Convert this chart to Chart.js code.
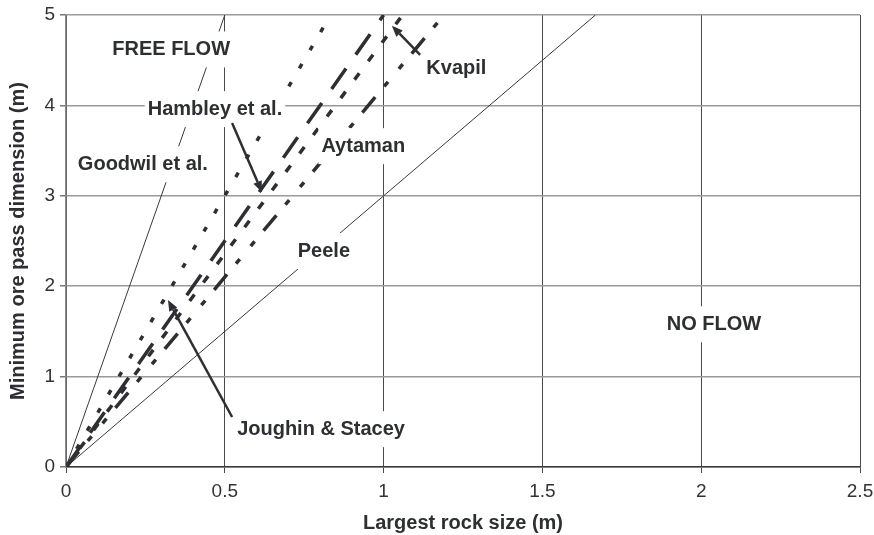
<!DOCTYPE html>
<html>
<head>
<meta charset="utf-8">
<script src="https://cdn.jsdelivr.net/npm/chart.js@4/dist/chart.umd.min.js"></script>
<style>
  html, body { margin: 0; padding: 0; background: #fff; }
  #wrap { width: 874px; height: 535px; }
</style>
</head>
<body>
<div id="wrap"><canvas id="chart"></canvas></div>
<script>
// ore pass criteria: every line starts at the origin and runs to (endX, endY)
const seriesNames = ['Goodwil et al.', 'Joughin & Stacey', 'Hambley et al.', 'Aytaman', 'Kvapil', 'Peele'];
const startX = [0, 0, 0, 0, 0, 0];
const startY = [0, 0, 0, 0, 0, 0];
const endX = [0.5, 0.833, 1.0, 1.06, 1.19, 1.667];
const endY = [5, 5, 5, 5, 5, 5];

const xTicks = [0, 0.5, 1, 1.5, 2, 2.5];
const yTicks = [0, 1, 2, 3, 4, 5];

// text labels placed on the chart (value coordinates)
const noteText = ['FREE FLOW', 'Hambley et al.', 'Goodwil et al.', 'Aytaman', 'Kvapil', 'Peele', 'Joughin & Stacey', 'NO FLOW'];
const noteX = [0.331, 0.469, 0.242, 0.936, 1.229, 0.812, 0.803, 2.04];
const noteY = [4.63, 3.97, 3.36, 3.56, 4.42, 2.40, 0.43, 1.59];

// pointer arrows: tail -> head (value coordinates)
const arrowFromX = [0.523, 0.523, 1.115];
const arrowFromY = [3.805, 0.553, 4.56];
const arrowToX = [0.617, 0.321, 1.026];
const arrowToY = [3.04, 1.847, 4.88];

const INK = '#2e2f33';
const FONT = '"Liberation Sans", Arial, Helvetica, sans-serif';

const lineStyle = {
  'Goodwil et al.': { width: 1, dash: [], color: '#3a3a3a' },
  'Joughin & Stacey': { width: 3.5, dash: [5, 16], color: INK },
  'Hambley et al.': { width: 3.5, dash: [25, 17], color: INK },
  'Aytaman': { width: 3.5, dash: [8, 15], color: INK },
  'Kvapil': { width: 3.5, dash: [20, 14, 6, 17, 6, 14], color: INK },
  'Peele': { width: 1, dash: [], color: '#3a3a3a' },
};

const datasets = seriesNames.map((name, i) => ({
  label: name,
  data: [{ x: startX[i], y: startY[i] }, { x: endX[i], y: endY[i] }],
  showLine: true,
  pointRadius: 0,
  borderColor: lineStyle[name].color,
  borderWidth: lineStyle[name].width,
  borderDash: lineStyle[name].dash,
  borderCapStyle: 'butt',
  fill: false,
}));

const notesPlugin = {
  id: 'notes',
  afterDatasetsDraw(chart) {
    const { ctx, scales: { x, y } } = chart;
    ctx.save();
    ctx.font = 'bold 20px ' + FONT;
    ctx.textAlign = 'center';
    ctx.textBaseline = 'middle';
    noteText.forEach((t, i) => {
      const px = x.getPixelForValue(noteX[i]);
      const py = y.getPixelForValue(noteY[i]);
      const w = ctx.measureText(t).width;
      ctx.fillStyle = '#fff';
      ctx.fillRect(px - w / 2 - 3, py - 17, w + 6, 36);
      ctx.fillStyle = INK;
      ctx.fillText(t, px, py + 1);
    });

    ctx.strokeStyle = INK;
    ctx.fillStyle = INK;
    ctx.lineWidth = 2.5;
    arrowFromX.forEach((_, i) => {
      const x0 = x.getPixelForValue(arrowFromX[i]);
      const y0 = y.getPixelForValue(arrowFromY[i]);
      const x1 = x.getPixelForValue(arrowToX[i]);
      const y1 = y.getPixelForValue(arrowToY[i]);
      const a = Math.atan2(y1 - y0, x1 - x0);
      const len = 11, half = 4.5;
      const bx = x1 - len * Math.cos(a), by = y1 - len * Math.sin(a);
      ctx.beginPath();
      ctx.moveTo(x0, y0);
      ctx.lineTo(bx, by);
      ctx.stroke();
      ctx.beginPath();
      ctx.moveTo(x1, y1);
      ctx.lineTo(bx + half * Math.sin(a), by - half * Math.cos(a));
      ctx.lineTo(bx - half * Math.sin(a), by + half * Math.cos(a));
      ctx.closePath();
      ctx.fill();
    });
    ctx.restore();
  }
};

new Chart(document.getElementById('chart'), {
  type: 'scatter',
  data: { datasets },
  plugins: [notesPlugin],
  options: {
    responsive: true,
    maintainAspectRatio: false,
    animation: false,
    layout: { padding: { top: 15, right: 14, left: 0, bottom: 0 } },
    plugins: { legend: { display: false }, tooltip: { enabled: false } },
    scales: {
      x: {
        type: 'linear',
        min: xTicks[0],
        max: xTicks[xTicks.length - 1],
        afterBuildTicks(scale) { scale.ticks = xTicks.map(v => ({ value: v })); },
        afterFit(scale) {
          scale.height = 68;
          scale.paddingLeft = 0;
          scale.paddingRight = 0;
        },
        grid: { color: '#4a4a4a', lineWidth: 1, tickLength: 6, tickColor: '#4a4a4a' },
        border: { color: '#3a3a3a', width: 1.5 },
        ticks: {
          color: '#333',
          padding: 7,
          font: { family: FONT, size: 19 },
          callback: v => String(v),
        },
        title: {
          display: true,
          text: 'Largest rock size (m)',
          color: INK,
          font: { family: FONT, size: 20, weight: 'bold' },
          padding: { top: 0, bottom: 0 },
        },
      },
      y: {
        type: 'linear',
        min: yTicks[0],
        max: yTicks[yTicks.length - 1],
        afterBuildTicks(scale) { scale.ticks = yTicks.map(v => ({ value: v })); },
        afterFit(scale) {
          scale.width = 66;
          scale.paddingTop = 0;
          scale.paddingBottom = 0;
        },
        grid: { color: '#9a9a9a', lineWidth: 1.5, tickLength: 6, tickColor: '#777' },
        border: { color: '#8a8a8a', width: 1.5 },
        ticks: {
          color: '#333',
          padding: 5,
          font: { family: FONT, size: 19 },
          callback: v => String(v),
        },
        title: {
          display: true,
          text: 'Minimum ore pass dimension (m)',
          color: INK,
          font: { family: FONT, size: 20, weight: 'bold' },
          padding: { top: 6, bottom: 0 },
        },
      },
    },
  },
});
</script>
</body>
</html>
